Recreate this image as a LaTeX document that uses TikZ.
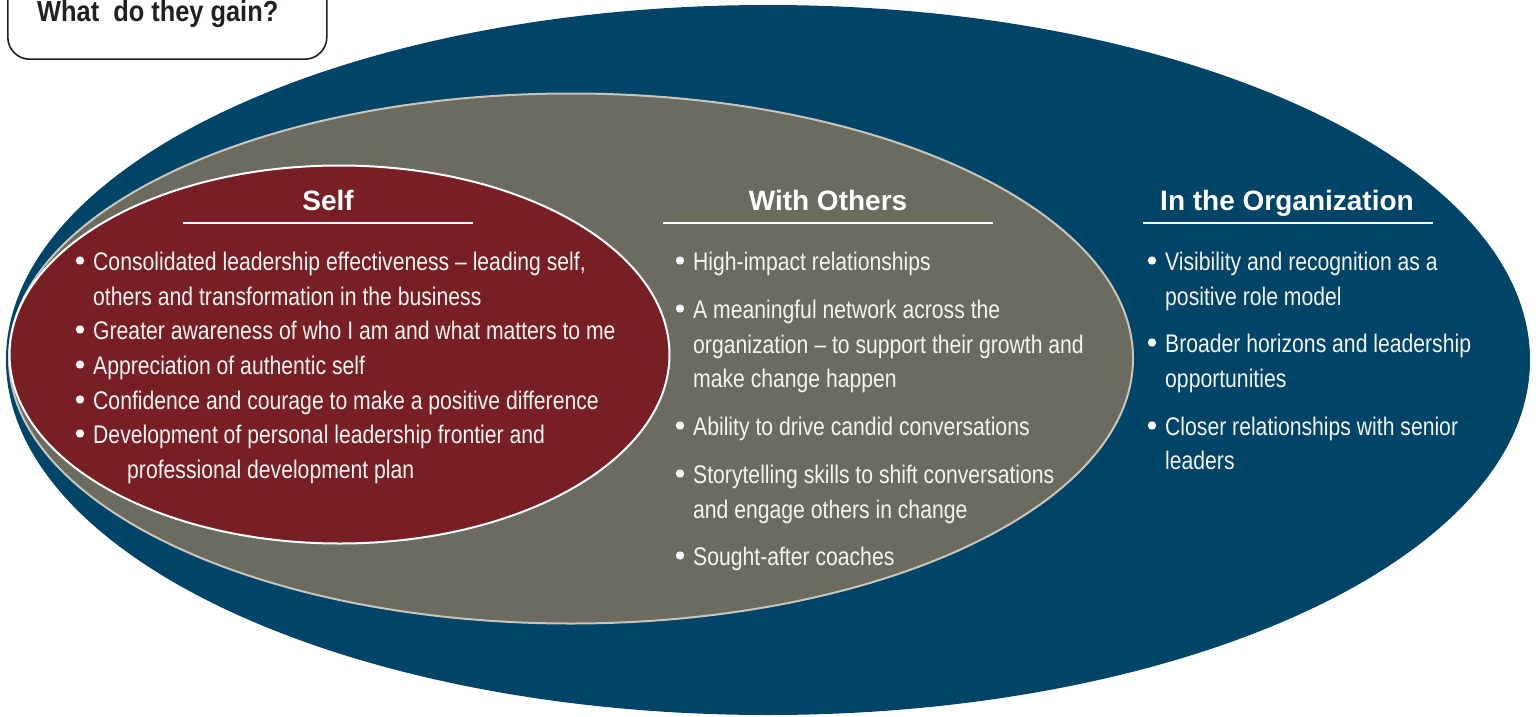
\documentclass[tikz,border=0pt]{standalone}
\usepackage{fontspec}
\setmainfont{Liberation Sans}
\newfontfamily\bodyfont[FakeStretch=0.83]{Liberation Sans}
\newfontfamily\titlefont[FakeStretch=0.875]{Liberation Sans}
\definecolor{orgblue}{HTML}{004468}
\definecolor{othgray}{HTML}{6C6B5F}
\definecolor{othline}{HTML}{C8C6BC}
\definecolor{selfred}{HTML}{771F24}
\definecolor{txt}{HTML}{F4F4F2}
\definecolor{ink}{HTML}{231F20}
\begin{document}
\begin{tikzpicture}[x=1pt,y=-1pt,
  item/.style={anchor=base west, inner sep=0pt, text=txt,
    font=\bodyfont\fontsize{25.5}{30}\selectfont},
  head/.style={anchor=base, inner sep=0pt, text=white,
    font=\bfseries\fontsize{28}{32}\selectfont},
  headrule/.style={white, line width=2pt},
  dot/.style={fill=txt}]
\useasboundingbox (0,0) rectangle (1536,717);
\clip (0,0) rectangle (1536,717);

% nested rings
\fill[orgblue] (768,360) ellipse [x radius=762, y radius=355];
\filldraw[fill=othgray, draw=othline, line width=2pt]
  (571,358.5) ellipse [x radius=562, y radius=265];
\filldraw[fill=selfred, draw=white, line width=2pt]
  (339.5,354.5) ellipse [x radius=330, y radius=189];

% title box
\node[draw=ink, line width=1.6pt, rounded corners=22pt, fill=white,
  minimum width=319pt, minimum height=100pt, anchor=south west] (gainbox) at (7,60) {};
\node[anchor=base west, inner sep=0pt, text=ink,
  font=\titlefont\bfseries\fontsize{29}{33}\selectfont] (gain) at (37,22) {What~ do they gain?};

% Self
\node[head] (hself) at (328,210) {Self};
\draw[headrule] (183,222.5) -- (473,222.5);
\foreach \y in {270,339,374,409,443} \fill[dot] (80,\y-9.5) circle (4.2);
\node[item] (s1a) at (93,270) {Consolidated leadership effectiveness – leading self,};
\node[item] (s1b) at (93,305) {others and transformation in the business};
\node[item] (s2) at (93,339) {Greater awareness of who I am and what matters to me};
\node[item] (s3) at (93,374) {Appreciation of authentic self};
\node[item] (s4) at (93,409) {Confidence and courage to make a positive difference};
\node[item] (s5a) at (93,443) {Development of personal leadership frontier and};
\node[item] (s5b) at (127,478) {professional development plan};

% With Others
\node[head] (hothers) at (828,210) {With Others};
\draw[headrule] (663,222.5) -- (993,222.5);
\foreach \y in {270,318,435,483,565} \fill[dot] (680,\y-9.5) circle (4.2);
\node[item] (o1) at (693,270) {High-impact relationships};
\node[item] (o2a) at (693,318) {A meaningful network across the};
\node[item] (o2b) at (693,353) {organization – to support their growth and};
\node[item] (o2c) at (693,387) {make change happen};
\node[item] (o3) at (693,435) {Ability to drive candid conversations};
\node[item] (o4a) at (693,483) {Storytelling skills to shift conversations};
\node[item] (o4b) at (693,518) {and engage others in change};
\node[item] (o5) at (693,565) {Sought-after coaches};

% In the Organization
\node[head] (horg) at (1287,210) {In the Organization};
\draw[headrule] (1143,222.5) -- (1433,222.5);
\foreach \y in {270,352,435} \fill[dot] (1152,\y-9.5) circle (4.2);
\node[item] (g1a) at (1165,270) {Visibility and recognition as a};
\node[item] (g1b) at (1165,305) {positive role model};
\node[item] (g2a) at (1165,352) {Broader horizons and leadership};
\node[item] (g2b) at (1165,387) {opportunities};
\node[item] (g3a) at (1165,435) {Closer relationships with senior};
\node[item] (g3b) at (1165,469) {leaders};
\end{tikzpicture}
\end{document}
